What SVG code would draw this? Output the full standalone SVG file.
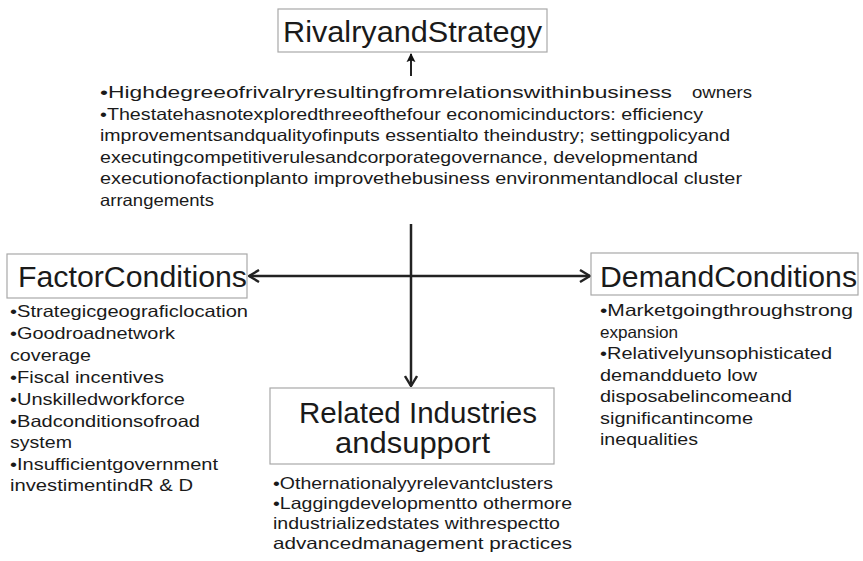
<svg xmlns="http://www.w3.org/2000/svg" width="863" height="561" viewBox="0 0 863 561">
  <style>
    .box { fill: #ffffff; stroke: #a8a8a8; stroke-width: 1.2; }
    .head { font-family: "Liberation Sans", Arial, sans-serif; font-size: 30px; fill: #1a1a1a; }
    .body { font-family: "Liberation Sans", Arial, sans-serif; font-size: 16.5px; fill: #1a1a1a; }
    .link { stroke: #222222; stroke-width: 2.5; fill: none; }
    .thin { stroke: #222222; stroke-width: 2; fill: none; }
  </style>
  <defs>
    <marker id="chevron" viewBox="0 0 12 14" refX="11" refY="7" markerWidth="12" markerHeight="14" markerUnits="userSpaceOnUse" orient="auto-start-reverse">
      <path d="M1,1 L11,7 L1,13" fill="none" stroke="#222222" stroke-width="2.4" stroke-linejoin="miter"/>
    </marker>
    <marker id="solid" viewBox="0 0 10 10" refX="9" refY="5" markerWidth="9" markerHeight="10" markerUnits="userSpaceOnUse" orient="auto">
      <path d="M0,0 L10,5 L0,10 L2,5 Z" fill="#111111"/>
    </marker>
  </defs>

  <!-- connectors -->
  <g id="connectors">
    <line class="thin" x1="411" y1="76" x2="411" y2="54" marker-end="url(#solid)"/>
    <line class="link" x1="411" y1="224" x2="411" y2="386" marker-end="url(#chevron)"/>
    <line class="link" x1="249" y1="276" x2="590" y2="276" marker-start="url(#chevron)" marker-end="url(#chevron)"/>
  </g>

  <!-- Rivalry and Strategy -->
  <g id="rivalry">
    <rect class="box" x="278" y="9" width="269" height="43"/>
    <text class="head" x="283" y="42" textLength="259" lengthAdjust="spacingAndGlyphs">RivalryandStrategy</text>
    <text class="body" y="98"><tspan x="100" textLength="572" lengthAdjust="spacingAndGlyphs">•Highdegreeofrivalryresultingfromrelationswithinbusiness</tspan><tspan x="692" textLength="60" lengthAdjust="spacingAndGlyphs">owners</tspan></text>
    <text class="body" x="100" y="119.5" textLength="603" lengthAdjust="spacingAndGlyphs">•Thestatehasnotexploredthreeofthefour economicinductors: efficiency</text>
    <text class="body" x="100" y="141" textLength="630" lengthAdjust="spacingAndGlyphs">improvementsandqualityofinputs essentialto theindustry; settingpolicyand</text>
    <text class="body" x="100" y="162.5" textLength="598" lengthAdjust="spacingAndGlyphs">executingcompetitiverulesandcorporategovernance, developmentand</text>
    <text class="body" x="100" y="184" textLength="642" lengthAdjust="spacingAndGlyphs">executionofactionplanto improvethebusiness  environmentandlocal cluster</text>
    <text class="body" x="100" y="206" textLength="114" lengthAdjust="spacingAndGlyphs">arrangements</text>
  </g>

  <!-- Factor Conditions -->
  <g id="factor">
    <rect class="box" x="7" y="254" width="240" height="44"/>
    <text class="head" x="18" y="287" textLength="229" lengthAdjust="spacingAndGlyphs">FactorConditions</text>
    <text class="body" x="10" y="317" textLength="238" lengthAdjust="spacingAndGlyphs">•Strategicgeograficlocation</text>
    <text class="body" x="10" y="339" textLength="165" lengthAdjust="spacingAndGlyphs">•Goodroadnetwork</text>
    <text class="body" x="10" y="361" textLength="81" lengthAdjust="spacingAndGlyphs">coverage</text>
    <text class="body" x="10" y="383" textLength="154" lengthAdjust="spacingAndGlyphs">•Fiscal incentives</text>
    <text class="body" x="10" y="404.5" textLength="175" lengthAdjust="spacingAndGlyphs">•Unskilledworkforce</text>
    <text class="body" x="10" y="426.5" textLength="190" lengthAdjust="spacingAndGlyphs">•Badconditionsofroad</text>
    <text class="body" x="10" y="448" textLength="62" lengthAdjust="spacingAndGlyphs">system</text>
    <text class="body" x="10" y="470" textLength="208" lengthAdjust="spacingAndGlyphs">•Insufficientgovernment</text>
    <text class="body" x="10" y="491" textLength="183" lengthAdjust="spacingAndGlyphs">investimentindR &amp; D</text>
  </g>

  <!-- Demand Conditions -->
  <g id="demand">
    <rect class="box" x="591" y="253" width="267" height="42"/>
    <text class="head" x="600" y="287" textLength="257" lengthAdjust="spacingAndGlyphs">DemandConditions</text>
    <text class="body" x="600" y="316" textLength="253" lengthAdjust="spacingAndGlyphs">•Marketgoingthroughstrong</text>
    <text class="body" x="600" y="337.5" textLength="78" lengthAdjust="spacingAndGlyphs">expansion</text>
    <text class="body" x="600" y="359" textLength="232" lengthAdjust="spacingAndGlyphs">•Relativelyunsophisticated</text>
    <text class="body" x="600" y="380.5" textLength="157" lengthAdjust="spacingAndGlyphs">demanddueto low</text>
    <text class="body" x="600" y="402" textLength="192" lengthAdjust="spacingAndGlyphs">disposabelincomeand</text>
    <text class="body" x="600" y="423.5" textLength="153" lengthAdjust="spacingAndGlyphs">significantincome</text>
    <text class="body" x="600" y="445" textLength="98" lengthAdjust="spacingAndGlyphs">inequalities</text>
  </g>

  <!-- Related Industries and support -->
  <g id="related">
    <rect class="box" x="270" y="388" width="284" height="76"/>
    <text class="head" x="299" y="423" textLength="238" lengthAdjust="spacingAndGlyphs">Related Industries</text>
    <text class="head" x="335" y="453" textLength="155" lengthAdjust="spacingAndGlyphs">andsupport</text>
    <text class="body" x="273" y="489" textLength="280" lengthAdjust="spacingAndGlyphs">•Othernationalyyrelevantclusters</text>
    <text class="body" x="273" y="509" textLength="299" lengthAdjust="spacingAndGlyphs">•Laggingdevelopmentto othermore</text>
    <text class="body" x="273" y="529" textLength="287" lengthAdjust="spacingAndGlyphs">industrializedstates withrespectto</text>
    <text class="body" x="273" y="549" textLength="299" lengthAdjust="spacingAndGlyphs">advancedmanagement practices</text>
  </g>
</svg>
